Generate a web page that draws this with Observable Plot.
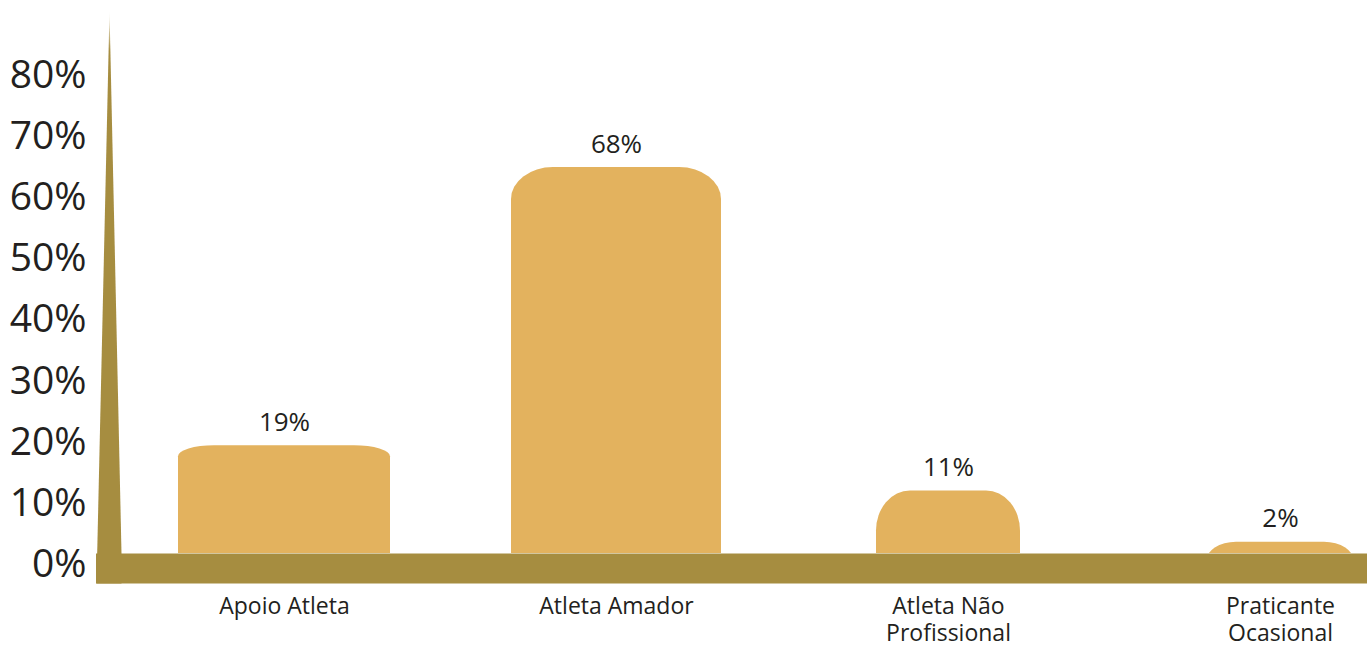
<!DOCTYPE html>
<html>
<head>
<meta charset="utf-8">
<script src="https://cdn.jsdelivr.net/npm/d3@7"></script>
<script src="https://cdn.jsdelivr.net/npm/@observablehq/plot@0.6"></script>
<style>
  html, body { margin: 0; padding: 0; background: #ffffff; }
  #chart { position: relative; width: 1367px; height: 646px; }
  #chart svg { position: absolute; left: 0; top: 0; background: transparent; }
</style>
</head>
<body>
<div id="chart"></div>
<script>
// ---- data ----
const categories = ["Apoio Atleta", "Atleta Amador", "Atleta Não\nProfissional", "Praticante\nOcasional"];
const values = [19, 68, 11, 2];
const yTicks = [0, 10, 20, 30, 40, 50, 60, 70, 80];

// ---- styling (not data) ----
const gold = "#E3B25E";
const olive = "#A68D40";
const ink = "#231F20";
const font = "'Open Sans', 'Noto Sans', sans-serif";
const barStyle = [
  {inset: 60, rx: 36, ry: 11},
  {inset: 61, rx: 42, ry: 32},
  {inset: 94, rx: 34, ry: 40},
  {inset: 92, rx: 30, ry: 20}
];

const data = categories.map((c, i) => ({cat: c, value: values[i], idx: i}));
const W = 1367, H = 646;

// Layer A: y axis tick labels
const plotA = Plot.plot({
  width: W, height: H,
  marginTop: 75, marginBottom: 82, marginLeft: 96, marginRight: 0,
  style: {fontFamily: font, color: ink, background: "transparent"},
  y: {domain: [0, 80], label: null},
  marks: [
    Plot.axisY(yTicks, {tickSize: 0, tickPadding: 10, fontSize: 39, tickFormat: d => d + "%", label: null, fill: ink})
  ]
});

// spike shape for the vertical axis
const spike = {
  draw(context, l) {
    context.moveTo(0, 30);
    context.lineTo(13, -l);
    context.lineTo(25, 0);
    context.lineTo(25, 30);
    context.closePath();
  }
};

const defs = () => {
  const d = d3.create("svg:defs");
  const g = d.append("linearGradient").attr("id", "spikeGrad")
    .attr("x1", 0).attr("y1", 0).attr("x2", 0).attr("y2", 1);
  g.append("stop").attr("offset", 0).attr("stop-color", olive).attr("stop-opacity", 0);
  g.append("stop").attr("offset", 0.07).attr("stop-color", olive).attr("stop-opacity", 1);
  g.append("stop").attr("offset", 1).attr("stop-color", olive).attr("stop-opacity", 1);
  return d.node();
};

// Layer B: bars, labels, axis shape
const plotB = Plot.plot({
  width: W, height: H,
  marginTop: 99, marginBottom: 93, marginLeft: 96, marginRight: 0,
  style: {fontFamily: font, color: ink, background: "transparent"},
  x: {type: "band", domain: categories, range: [117.5, 1445.5], padding: 0, label: null},
  y: {domain: [0, 80], label: null, axis: null},
  marks: [
    defs,
    ...barStyle.map((s, i) => Plot.barY(data, {
      filter: d => d.idx === i,
      x: "cat", y1: () => -10, y2: "value",
      fill: gold, rx: s.rx, ry: s.ry,
      insetLeft: s.inset, insetRight: s.inset,
      clip: "frame"
    })),
    Plot.ruleY([0], {stroke: olive, strokeWidth: 30, dy: 15}),
    Plot.vector([0], {frameAnchor: "bottom-left", length: 543, rotate: 0, anchor: "start",
      shape: spike, fill: "url(#spikeGrad)", stroke: "none"}),
    Plot.text(data, {x: "cat", y: "value", text: d => d.value + "%", dy: -15,
      lineAnchor: "bottom", fontSize: 26, fill: ink}),
    Plot.axisX({tickSize: 0, tickPadding: 41, fontSize: 23, lineHeight: 1.18, label: null, fill: ink})
  ]
});

const chart = document.getElementById("chart");
chart.appendChild(plotA);
chart.appendChild(plotB);
</script>
</body>
</html>
